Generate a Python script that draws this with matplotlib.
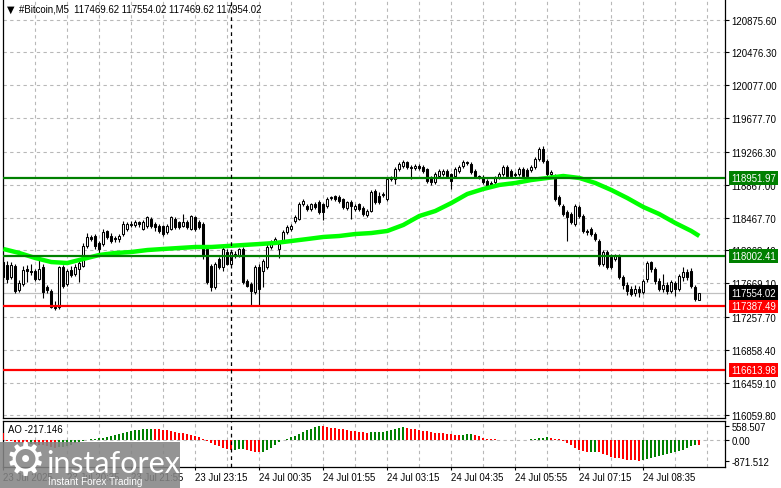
import matplotlib
matplotlib.use("Agg")
import matplotlib.pyplot as plt
import matplotlib.transforms as mtransforms
from matplotlib.patches import Rectangle

plt.rcParams["font.family"] = ["Liberation Sans", "DejaVu Sans"]

# #Bitcoin M5 candles, 23 Jul 19:15 -> 24 Jul 09:45 (one row per bar: open, high, low, close)
candles = [
    [117926, 117987, 117695, 117744], [117890, 117939, 117671, 117719], [117744, 117926, 117719, 117890],
    [117878, 117902, 117549, 117573], [117585, 117707, 117561, 117671], [117658, 117878, 117634, 117829],
    [117841, 117890, 117683, 117817], [117817, 117902, 117768, 117805], [117817, 117841, 117695, 117719],
    [117719, 117963, 117707, 117841], [117866, 117902, 117488, 117561], [117622, 117646, 117549, 117585],
    [117573, 117597, 117366, 117379], [117379, 117451, 117342, 117366], [117379, 117878, 117354, 117866],
    [117866, 117890, 117610, 117634], [117658, 117841, 117634, 117817], [117829, 117878, 117744, 117768],
    [117780, 117902, 117756, 117866], [117841, 117963, 117683, 117914], [117878, 118158, 117866, 118121],
    [118121, 118279, 118097, 118231], [118231, 118255, 118182, 118206], [118243, 118267, 118085, 118121],
    [118158, 118182, 118012, 118085], [118145, 118328, 118121, 118292], [118304, 118316, 118206, 118231],
    [118243, 118279, 118158, 118182], [118219, 118243, 118170, 118206], [118206, 118267, 118170, 118243],
    [118267, 118425, 118243, 118389], [118328, 118413, 118304, 118389], [118389, 118425, 118352, 118377],
    [118377, 118437, 118352, 118413], [118413, 118425, 118352, 118389], [118328, 118437, 118316, 118413],
    [118365, 118486, 118340, 118474], [118450, 118474, 118340, 118365], [118389, 118413, 118304, 118352],
    [118365, 118389, 118279, 118304], [118365, 118377, 118243, 118267], [118292, 118389, 118267, 118365],
    [118328, 118486, 118316, 118474], [118450, 118474, 118328, 118352], [118413, 118425, 118328, 118352],
    [118365, 118510, 118352, 118413], [118413, 118437, 118328, 118352], [118328, 118498, 118316, 118486],
    [118474, 118486, 118304, 118328], [118413, 118437, 118328, 118352], [118389, 118413, 117963, 118000],
    [118085, 118109, 117658, 117683], [117878, 117902, 117573, 117622], [117622, 117926, 117597, 117902],
    [117963, 117987, 117841, 117866], [117866, 118109, 117817, 118085], [118048, 118085, 117890, 117902],
    [117902, 118072, 117890, 118048], [118024, 118060, 117975, 118000], [118012, 118097, 117987, 118085],
    [118085, 118109, 117658, 117683], [117695, 117719, 117622, 117634], [117658, 117683, 117403, 117573],
    [117561, 117890, 117536, 117866], [117866, 117902, 117403, 117597], [117817, 117963, 117622, 117939],
    [117866, 118145, 117841, 118109], [118109, 118194, 118085, 118170], [118170, 118231, 118145, 118206],
    [118085, 118170, 117975, 118145], [118182, 118316, 118158, 118292], [118292, 118377, 118267, 118352],
    [118328, 118389, 118304, 118365], [118425, 118498, 118401, 118474], [118450, 118657, 118437, 118632],
    [118632, 118693, 118608, 118669], [118608, 118632, 118547, 118571], [118571, 118644, 118547, 118632],
    [118632, 118657, 118571, 118596], [118657, 118681, 118510, 118535], [118632, 118644, 118437, 118535],
    [118608, 118717, 118584, 118693], [118705, 118730, 118681, 118717], [118730, 118742, 118669, 118693],
    [118717, 118742, 118644, 118669], [118693, 118705, 118571, 118596], [118584, 118669, 118559, 118657],
    [118657, 118681, 118450, 118608], [118571, 118632, 118547, 118608], [118632, 118644, 118547, 118571],
    [118584, 118608, 118486, 118510], [118498, 118571, 118474, 118547], [118547, 118803, 118535, 118779],
    [118791, 118815, 118632, 118657], [118730, 118779, 118632, 118657], [118742, 118779, 118717, 118754],
    [118693, 118961, 118669, 118936], [118936, 118973, 118912, 118949], [118936, 119082, 118876, 119058],
    [119058, 119143, 119034, 119119], [119095, 119168, 119070, 119143], [119143, 119155, 119058, 119082],
    [119082, 119107, 118936, 119070], [119070, 119119, 119046, 119095], [119095, 119119, 119046, 119070],
    [119082, 119107, 119009, 119034], [119058, 119070, 118888, 118912], [118961, 118973, 118863, 118900],
    [118900, 119022, 118876, 118997], [118973, 119058, 118949, 119034], [118997, 119058, 118973, 119034],
    [119034, 119058, 118949, 118973], [118997, 119009, 118815, 118912], [118973, 119082, 118961, 119058],
    [119034, 119107, 119009, 119082], [119095, 119168, 119070, 119143], [119143, 119155, 119107, 119131],
    [119119, 119143, 118997, 119022], [119034, 119058, 118949, 118973], [118973, 118985, 118936, 118961],
    [118961, 118985, 118876, 118900], [118912, 118936, 118827, 118851], [118888, 118912, 118839, 118863],
    [118900, 118973, 118876, 118961], [118961, 119022, 118936, 118997], [118997, 119107, 118973, 119082],
    [119082, 119107, 118961, 118973], [119034, 119058, 118949, 118973], [118997, 119022, 118961, 118985],
    [118997, 119082, 118973, 119058], [119058, 119082, 118949, 118973], [119046, 119070, 118961, 118973],
    [119046, 119107, 119022, 119082], [119082, 119204, 119058, 119180], [119180, 119326, 119155, 119302],
    [119302, 119338, 119131, 119155], [119155, 119180, 118973, 118997], [118997, 119046, 118973, 119022],
    [118973, 118997, 118669, 118693], [118717, 118742, 118608, 118632], [118608, 118632, 118486, 118510],
    [118535, 118559, 118182, 118474], [118510, 118535, 118389, 118413], [118389, 118632, 118365, 118608],
    [118596, 118620, 118462, 118486], [118486, 118510, 118279, 118304], [118304, 118328, 118255, 118292],
    [118328, 118352, 118243, 118267], [118267, 118292, 118182, 118206], [118182, 118206, 117878, 117902],
    [117902, 118072, 117878, 118048], [118048, 118072, 117841, 117866], [117987, 118024, 117841, 117866],
    [117963, 118024, 117939, 118000], [118000, 118024, 117719, 117744], [117744, 117768, 117597, 117646],
    [117646, 117683, 117524, 117573], [117597, 117634, 117512, 117536], [117549, 117646, 117512, 117597],
    [117597, 117634, 117500, 117561], [117561, 117719, 117536, 117695], [117719, 117939, 117683, 117914],
    [117926, 117939, 117805, 117841], [117841, 117866, 117658, 117695], [117695, 117732, 117573, 117597],
    [117597, 117780, 117561, 117646], [117646, 117683, 117536, 117573], [117573, 117707, 117549, 117683],
    [117671, 117695, 117512, 117597], [117597, 117780, 117573, 117756], [117744, 117866, 117695, 117805],
    [117805, 117841, 117707, 117744], [117817, 117853, 117610, 117634], [117622, 117646, 117451, 117476],
    [117469.62, 117554.02, 117469.62, 117554.02],
]

# moving average (bar index, price)
ma_bars = [0, 4, 8, 12, 16, 20, 24, 28, 32, 36, 40, 44, 48, 52, 56, 60, 64, 68, 72, 76, 80, 84,
           88, 92, 96, 100, 104, 108, 112, 116, 120, 124, 128, 132, 136, 140, 144, 148, 152, 156,
           160, 164, 168, 172, 174]
ma_values = [118085, 118036, 117975, 117926, 117914, 117963, 118012, 118036, 118048, 118072, 118085,
             118097, 118109, 118109, 118121, 118133, 118145, 118158, 118182, 118206, 118231, 118243,
             118267, 118279, 118304, 118377, 118486, 118547, 118644, 118754, 118815, 118864, 118888,
             118924, 118949, 118973, 118949, 118888, 118803, 118705, 118596, 118510, 118401, 118304,
             118243]

# Awesome Oscillator
ao_values = [
    280, -40, -70, -100, -120, -150, -170, -160, -180, -200, -230, -260, -300, -340, -320, -310,
    -280, -200, -150, -100, -50, -10, 20, 40, 60, 80, 110, 150, 190, 230, 270, 310,
    350, 390, 420, 440, 455, 460, 455, 440, 420, 400, 370, 340, 300, 260, 220, 180,
    140, 100, 40, -40, -120, -200, -270, -330, -380, -420, -410, -400, -390, -420, -460, -500,
    -520, -490, -420, -330, -220, -110, -20, 40, 100, 170, 250, 330, 400, 460, 520, 558.507,
    550, 530, 505, 480, 455, 430, 405, 380, 360, 340, 320, 300, 310, 320, 330, 340,
    370, 400, 440, 480, 510, 490, 460, 430, 400, 375, 350, 320, 300, 280, 260, 240,
    220, 210, 200, 215, 230, 240, 210, 150, 80, 40, 20, 10, 5, 8, 5, 3,
    2, 4, 3, 2, 20, 40, 60, 90, 110, 80, 40, 10, -40, -120, -230, -340,
    -420, -480, -510, -500, -490, -520, -580, -650, -700, -740, -780, -810, -835, -850, -862, -871.512,
    -850, -810, -770, -730, -690, -650, -610, -570, -520, -470, -420, -350, -280, -200, -217.146,
]

green_levels = [118951.97, 118002.41]
red_levels = [117387.49, 116613.98]
bid_price = 117554.02

price_ticks = [120875.60, 120476.30, 120077.00, 119677.70, 119266.30, 118867.00, 118467.70,
               118068.40, 117669.10, 117257.70, 116858.40, 116459.10, 116059.80]
ao_ticks = [558.507, 0.0, -871.512]
ao_tick_labels = ["558.507", "0.00", "-871.512"]
time_labels = ["23 Jul 2025", "23 Jul 20:35", "23 Jul 21:55", "23 Jul 23:15", "24 Jul 00:35",
               "24 Jul 01:55", "24 Jul 03:15", "24 Jul 04:35", "24 Jul 05:55", "24 Jul 07:15",
               "24 Jul 08:35"]
day_break = 57  # 24 Jul 00:00

W, H = 781, 489
fs = 6.9
grid_color = "#b8b8b8"
dash = (0, (3, 3))

fig = plt.figure(figsize=(W / 100, H / 100), dpi=100)
ax = fig.add_axes([2.7 / W, (H - 419) / H, (725 - 2.7) / W, 419 / H])
ax2 = fig.add_axes([2.7 / W, (H - 467.7) / H, (725 - 2.7) / W, (467.7 - 421.7) / H], sharex=ax)

n = len(candles)
xs = list(range(n))
ax.set_xlim(-0.15, 180.43)
ax.set_ylim(116028, 121127)
ax2.set_ylim(-1121, 791)

# grid
for p in price_ticks:
    ax.axhline(p, color=grid_color, lw=0.8, ls=dash, zorder=0.5)
for b in range(8, 181, 8):
    ax.axvline(b, color=grid_color, lw=0.8, ls=dash, zorder=0.5)
    ax2.axvline(b, color=grid_color, lw=0.8, ls=dash, zorder=0.5)
ax2.axhline(0, color=grid_color, lw=0.8, ls=dash, zorder=0.5)

# bid line
ax.axhline(bid_price, color="#c0c0c0", lw=0.9, zorder=1)

# candles
for i, (o, h, l, c) in enumerate(candles):
    ax.vlines(i, l, h, color="black", lw=0.8, zorder=3)
    face = "white" if c >= o else "black"
    ax.bar(i, max(abs(c - o), 1), bottom=min(o, c), width=0.55, color=face,
           edgecolor="black", linewidth=0.75, zorder=3.5)

# moving average
ax.plot(ma_bars, ma_values, color="#00ff00", lw=3.2, solid_capstyle="butt", zorder=4)

# levels
for p in green_levels:
    ax.axhline(p, color="#008000", lw=1.6, zorder=4.5)
for p in red_levels:
    ax.axhline(p, color="#ff0000", lw=1.6, zorder=4.5)

# day separator
ax.axvline(day_break, color="black", lw=0.9, ls=dash, zorder=5)
ax2.axvline(day_break, color="black", lw=0.9, ls=dash, zorder=5)

# AO histogram
ao_colors = ["#ff0000"]
for i in range(1, n):
    ao_colors.append("#008000" if ao_values[i] > ao_values[i - 1] else "#ff0000")
ax2.bar(xs, ao_values, width=0.42, color=ao_colors, linewidth=0, zorder=3)

# right price axis
ax.yaxis.tick_right()
ax.set_yticks(price_ticks)
ax.set_yticklabels(["%.2f" % p for p in price_ticks])
ax.tick_params(axis="y", direction="out", length=3, width=0.8, pad=1.5, labelsize=fs)
ax.tick_params(axis="x", length=0, labelbottom=False)

ax2.yaxis.tick_right()
ax2.set_yticks(ao_ticks)
ax2.set_yticklabels(ao_tick_labels)
ax2.tick_params(axis="y", direction="out", length=3, width=0.8, pad=1.5, labelsize=fs)
ax2.set_xticks(list(range(0, 161, 16)))
ax2.set_xticklabels(time_labels)
ax2.tick_params(axis="x", direction="out", length=2, width=0.8, pad=2, labelsize=fs)
for lbl in ax2.get_xticklabels():
    lbl.set_horizontalalignment("left")

for a in (ax, ax2):
    for s in a.spines.values():
        s.set_color("black")
        s.set_linewidth(0.9)
ax.spines["top"].set_visible(False)

# coloured price labels on the axis
trans = mtransforms.blended_transform_factory(ax.transAxes, ax.transData)
tx = 1 + 6 / (725 - 2.7)
for p in green_levels:
    ax.text(tx, p, "%.2f" % p, transform=trans, va="center", ha="left", fontsize=fs, color="white",
            clip_on=False, zorder=10, bbox=dict(boxstyle="square,pad=0.22", fc="#008000", ec="none"))
for p in red_levels:
    ax.text(tx, p, "%.2f" % p, transform=trans, va="center", ha="left", fontsize=fs, color="white",
            clip_on=False, zorder=10, bbox=dict(boxstyle="square,pad=0.22", fc="#ff0000", ec="none"))
ax.text(tx, bid_price, "%.2f" % bid_price, transform=trans, va="center", ha="left", fontsize=fs,
        color="white", clip_on=False, zorder=10,
        bbox=dict(boxstyle="square,pad=0.22", fc="black", ec="none"))

# header texts
fig.text(7 / W, 1 - 10 / H, "\u25bc", fontsize=7, va="center", ha="left", family="DejaVu Sans")
fig.text(19 / W, 1 - 10 / H, "#Bitcoin,M5  117469.62 117554.02 117469.62 117954.02",
         fontsize=fs, va="center", ha="left")
fig.text(8 / W, 1 - 430 / H, "AO -217.146", fontsize=fs, va="center", ha="left")

# instaforex watermark
fig.patches.append(Rectangle((0, 0), 180 / W, (H - 443) / H, transform=fig.transFigure,
                             fc="#858585", ec="none", alpha=0.88, zorder=20))
fig.text(25 / W, 1 - 463 / H, "\u2699", fontsize=33, color="white", va="center", ha="center",
         family="DejaVu Sans", zorder=21)
fig.text(46 / W, 1 - 464 / H, "instaforex", fontsize=22, color="white", va="center", ha="left",
         family="Lato", zorder=21)
fig.text(48 / W, 1 - 482 / H, "Instant Forex Trading", fontsize=7.2, color="white", va="center",
         ha="left", zorder=21)

fig.savefig("out.png", dpi=100)
